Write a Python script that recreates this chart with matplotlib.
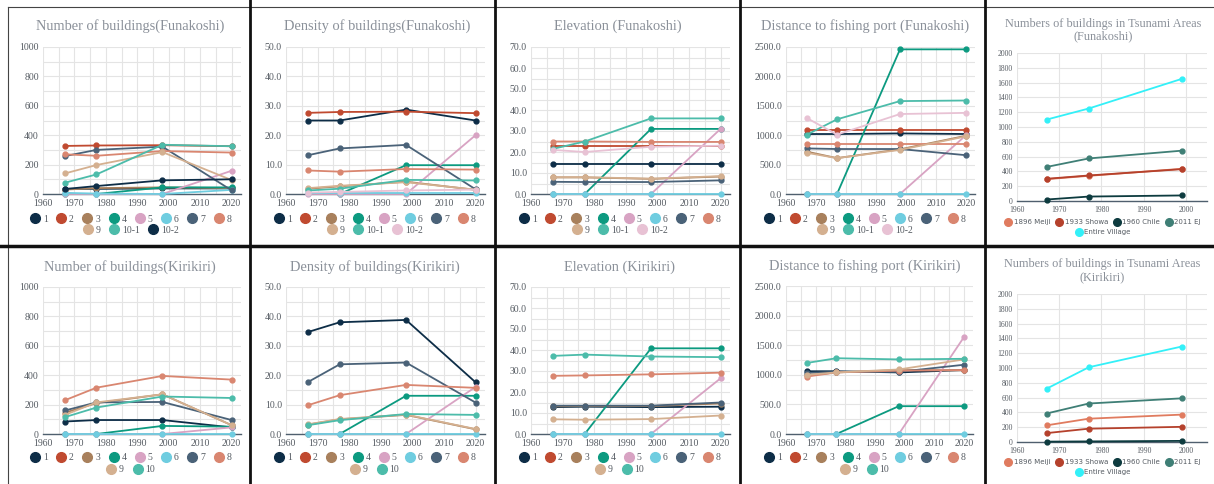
import matplotlib
matplotlib.use("Agg")
import matplotlib.pyplot as plt
import numpy as np
from matplotlib.lines import Line2D
from matplotlib.ticker import MultipleLocator, FormatStrFormatter

W, H = 1214, 484
nan = np.nan

# ---------------- data ----------------
years = [1967, 1977, 1998, 2020]
tsunami_years = [1967, 1977, 1999]

funa_labels = ["1", "2", "3", "4", "5", "6", "7", "8", "9", "10-1", "10-2"]
kiri_labels = ["1", "2", "3", "4", "5", "6", "7", "8", "9", "10"]
tsunami_labels = ["1896 Meiji", "1933 Showa", "1960 Chile", "2011 EJ", "Entire Village"]

# Funakoshi, one row per area (order of funa_labels)
funa_count = [
    [35, 35, 38, 38],
    [327, 330, 332, 325],
    [30, 40, 45, 40],
    [0, 0, 45, 45],
    [0, 0, 0, 158],
    [8, 3, 0, 28],
    [258, 300, 322, 25],
    [270, 260, 292, 282],
    [140, 197, 285, 95],
    [77, 133, 335, 325],
    [34, 54, 93, 100],
]
funa_density = [
    [25.0, 25.0, 28.7, 25.0],
    [27.6, 27.9, 28.0, 27.5],
    [1.8, 2.6, 4.2, 1.4],
    [nan, 0.0, 9.8, 9.8],
    [0.0, 0.0, 0.0, 20.0],
    [0.3, 0.3, 0.3, 0.3],
    [13.2, 15.5, 16.7, 1.6],
    [8.0, 7.6, 8.5, 8.3],
    [2.0, 2.8, 4.0, 1.5],
    [1.2, 1.8, 4.8, 4.6],
    [0.5, 0.7, 1.2, 1.5],
]
funa_elev = [
    [14.5, 14.5, 14.5, 14.5],
    [23.0, 23.0, 23.0, 23.0],
    [7.9, 7.9, 7.2, 8.3],
    [0.0, 0.0, 31.0, 31.0],
    [0.0, 0.0, 0.0, 31.0],
    [0.0, 0.0, 0.0, 0.0],
    [5.8, 5.7, 5.7, 6.5],
    [25.0, 25.0, 24.8, 24.8],
    [8.0, 8.0, 7.3, 8.5],
    [21.5, 25.0, 36.0, 36.0],
    [21.0, 20.0, 22.5, 23.0],
]
funa_dist = [
    [1020, 1020, 1030, 1020],
    [1090, 1090, 1090, 1090],
    [720, 610, 760, 990],
    [0, 0, 2460, 2460],
    [0, 0, 0, 1000],
    [0, 0, 0, 0],
    [775, 765, 765, 660],
    [850, 850, 850, 850],
    [700, 610, 750, 980],
    [1010, 1270, 1580, 1590],
    [1290, 1010, 1360, 1380],
]
funa_tsunami = [
    [295, 340, 435],
    [300, 345, 430],
    [20, 60, 75],
    [460, 575, 680],
    [1100, 1250, 1650],
]

# Kirikiri, one row per area (order of kiri_labels)
kiri_count = [
    [85, 95, 95, 45],
    [nan, nan, nan, nan],
    [145, 210, 270, 60],
    [0, 0, 55, 50],
    [0, 0, 0, 45],
    [0, 0, 0, 0],
    [160, 215, 218, 95],
    [230, 315, 395, 370],
    [130, 215, 270, 60],
    [115, 180, 255, 245],
]
kiri_density = [
    [34.7, 38.0, 38.8, 17.6],
    [nan, nan, nan, nan],
    [3.2, 5.0, 6.5, 1.6],
    [0.0, 0.0, 13.0, 13.0],
    [0.0, 0.0, 0.0, 16.0],
    [0.0, 0.0, 0.0, 0.0],
    [17.7, 23.7, 24.3, 10.7],
    [9.8, 13.2, 16.7, 15.7],
    [3.3, 5.1, 6.6, 1.7],
    [3.0, 4.7, 6.8, 6.5],
]
kiri_elev = [
    [12.8, 13.0, 12.8, 13.0],
    [nan, nan, nan, nan],
    [13.2, 13.3, 13.3, 14.5],
    [0.0, 0.0, 40.8, 40.8],
    [0.0, 0.0, 0.0, 26.5],
    [0.0, 0.0, 0.0, 0.0],
    [13.5, 13.5, 13.5, 15.0],
    [27.7, 27.9, 28.4, 29.2],
    [7.0, 6.8, 7.1, 8.8],
    [37.2, 37.8, 36.9, 36.6],
]
kiri_dist = [
    [1060, 1060, 1040, 1080],
    [nan, nan, nan, nan],
    [990, 1040, 1080, 1075],
    [0, 0, 470, 470],
    [0, 0, 0, 1640],
    [0, 0, 0, 0],
    [1030, 1050, 1050, 1170],
    [970, 1040, 1070, 1080],
    [1000, 1040, 1090, 1260],
    [1200, 1280, 1260, 1270],
]
kiri_tsunami = [
    [225, 315, 370],
    [120, 180, 205],
    [5, 8, 15],
    [385, 520, 590],
    [720, 1010, 1290],
]

# ---------------- colours ----------------
base = ["#0d2d47", "#c04a30", "#a8805c", "#0c9a80", "#d8a3c3", "#6fcde0",
        "#4a6278", "#d98670", "#d4b090", "#4cbcaa"]
funa_colors_count = base + ["#0d2d47"]
funa_colors = base + ["#e8c2d4"]
kiri_colors = base
tsunami_colors = ["#e07b5f", "#b5412c", "#0d3b3f", "#3f7f76", "#33f0f8"]

title_color = "#8a9099"
tick_color = "#555b62"
grid_color = "#e4e4e4"
serif = "Liberation Serif"

fig = plt.figure(figsize=(W / 100, H / 100), dpi=100)


def px_axes(x0, y0, x1, y1):
    return fig.add_axes([x0 / W, 1 - y1 / H, (x1 - x0) / W, (y1 - y0) / H])


def style(ax, ymax, ymaj, ymin, fmt, xmax, xminor, fs):
    ax.set_xlim(1960, xmax)
    ax.set_ylim(0, ymax)
    ax.xaxis.set_major_locator(MultipleLocator(10))
    ax.yaxis.set_major_locator(MultipleLocator(ymaj))
    if xminor:
        ax.xaxis.set_minor_locator(MultipleLocator(5))
    if ymin:
        ax.yaxis.set_minor_locator(MultipleLocator(ymin))
    ax.yaxis.set_major_formatter(FormatStrFormatter(fmt))
    ax.grid(True, which="both", color=grid_color, lw=0.8)
    ax.set_axisbelow(True)
    for s in ["top", "right", "left"]:
        ax.spines[s].set_visible(False)
    ax.spines["bottom"].set_color("#4f5f6e")
    ax.spines["bottom"].set_linewidth(1.0)
    ax.tick_params(which="both", length=0, labelsize=fs, colors=tick_color)
    ax.tick_params(axis="x", pad=3.5)
    ax.tick_params(axis="y", pad=3)
    for lab in ax.get_xticklabels() + ax.get_yticklabels():
        lab.set_fontfamily(serif)


def draw(ax, xs, series, colors):
    for vals, c in zip(series, colors):
        ax.plot(xs, vals, color=c, lw=1.3, marker="o", ms=3.5, clip_on=False, zorder=3)


def legend_rows(labels, colors, rows, cx, ys, fs, family, ms, gap):
    start = 0
    for n, y in zip(rows, ys):
        hs = [Line2D([], [], ls="none", marker="o", ms=ms, color=c)
              for c in colors[start:start + n]]
        leg = fig.legend(hs, labels[start:start + n], loc="center",
                         bbox_to_anchor=(cx / W, 1 - y / H), ncol=n, frameon=False,
                         handlelength=0.9, handletextpad=0.35,
                         columnspacing=gap, borderpad=0,
                         prop={"family": family, "size": fs})
        for t in leg.get_texts():
            t.set_color(tick_color)
        start += n


def title(text, cx, cy, fs):
    fig.text(cx / W, 1 - cy / H, text, ha="center", va="center",
             fontsize=fs, color=title_color, family=serif)


TFS = 10.4   # panel title size
KFS = 7      # tick label size
LFS = 7      # legend text size

# ---------------- top row: Funakoshi ----------------
ax = px_axes(43, 47, 241, 194)
draw(ax, years, funa_count, funa_colors_count)
style(ax, 1000, 200, 100, "%d", 2023, True, KFS)
title("Number of buildings(Funakoshi)", 130, 26, TFS)
legend_rows(funa_labels, funa_colors_count, [8, 3], 131, [219, 230], LFS, serif, 7, 0.95)

ax = px_axes(286, 47, 485, 194)
draw(ax, years, funa_density, funa_colors)
style(ax, 50, 10, 5, "%.1f", 2023, True, KFS)
title("Density of buildings(Funakoshi)", 377, 26, TFS)
legend_rows(funa_labels, funa_colors, [8, 3], 375, [219, 230], LFS, serif, 7, 0.95)

ax = px_axes(531, 47, 730, 194)
draw(ax, years, funa_elev, funa_colors)
style(ax, 70, 10, 5, "%.1f", 2023, True, KFS)
title("Elevation (Funakoshi)", 618, 26, TFS)
legend_rows(funa_labels, funa_colors, [8, 3], 620, [219, 230], LFS, serif, 7, 0.95)

ax = px_axes(786, 47, 975, 194)
draw(ax, years, funa_dist, funa_colors)
style(ax, 2500, 500, 250, "%.1f", 2023, True, KFS)
title("Distance to fishing port (Funakoshi)", 865, 26, TFS)
legend_rows(funa_labels, funa_colors, [8, 3], 865, [219, 230], LFS, serif, 7, 0.95)

ax = px_axes(1017, 53, 1207, 201)
draw(ax, tsunami_years, funa_tsunami, tsunami_colors)
style(ax, 2000, 200, None, "%d", 2005, False, 5.5)
title("Numbers of buildings in Tsunami Areas", 1103, 24, 8.8)
title("(Funakoshi)", 1103, 36, 8.8)
legend_rows(tsunami_labels, tsunami_colors, [4, 1], 1103, [222, 232], 5, "DejaVu Sans", 5.5, 0.8)

# ---------------- bottom row: Kirikiri ----------------
ax = px_axes(43, 287, 241, 434)
draw(ax, years, kiri_count, kiri_colors)
style(ax, 1000, 200, 100, "%d", 2023, True, KFS)
title("Number of buildings(Kirikiri)", 130, 267, TFS)
legend_rows(kiri_labels, kiri_colors, [8, 2], 131, [458, 470], LFS, serif, 7, 0.95)

ax = px_axes(286, 287, 485, 434)
draw(ax, years, kiri_density, kiri_colors)
style(ax, 50, 10, 5, "%.1f", 2023, True, KFS)
title("Density of buildings(Kirikiri)", 375, 267, TFS)
legend_rows(kiri_labels, kiri_colors, [8, 2], 375, [458, 470], LFS, serif, 7, 0.95)

ax = px_axes(531, 287, 730, 434)
draw(ax, years, kiri_elev, kiri_colors)
style(ax, 70, 10, 5, "%.1f", 2023, True, KFS)
title("Elevation (Kirikiri)", 619, 267, TFS)
legend_rows(kiri_labels, kiri_colors, [8, 2], 620, [458, 470], LFS, serif, 7, 0.95)

ax = px_axes(786, 286, 973, 434)
draw(ax, years, kiri_dist, kiri_colors)
style(ax, 2500, 500, 250, "%.1f", 2023, True, KFS)
title("Distance to fishing port (Kirikiri)", 865, 266, TFS)
legend_rows(kiri_labels, kiri_colors, [8, 2], 865, [458, 470], LFS, serif, 7, 0.95)

ax = px_axes(1017, 294, 1207, 442)
draw(ax, tsunami_years, kiri_tsunami, tsunami_colors)
style(ax, 2000, 200, None, "%d", 2005, False, 5.5)
title("Numbers of buildings in Tsunami Areas", 1102, 264, 8.8)
title("(Kirikiri)", 1102, 277, 8.8)
legend_rows(tsunami_labels, tsunami_colors, [4, 1], 1103, [462, 472], 5, "DejaVu Sans", 5.5, 0.8)

# ---------------- panel frames ----------------
def fline(x0, y0, x1, y1, color, lw):
    fig.add_artist(Line2D([x0 / W, x1 / W], [1 - y0 / H, 1 - y1 / H],
                          transform=fig.transFigure, color=color, lw=lw))

fline(8, 7, 1214, 7, "#444444", 0.8)
fline(8, 7, 8, 484, "#444444", 0.8)
fline(0, 246, 1214, 246, "#111111", 2.5)
for xv in [250, 495, 740, 985]:
    fline(xv, 0, xv, 484, "#111111", 2.0)

fig.savefig("out.png", dpi=100)
